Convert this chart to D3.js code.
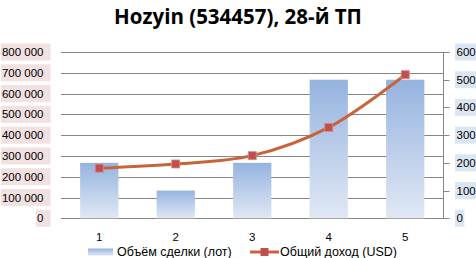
<!DOCTYPE html>
<html>
<head>
<meta charset="utf-8">
<script src="https://cdn.jsdelivr.net/npm/d3@7"></script>
<style>
  body { margin: 0; background: #fff; }
  text { font-family: "Liberation Sans", Arial, sans-serif; }
</style>
</head>
<body>
<svg id="chart" width="476" height="258"></svg>
<script>
// chart data
var categories = ["1", "2", "3", "4", "5"];
var volumes = [266667, 133333, 266667, 666667, 666667];   // Объём сделки (лот)
var incomes = [181, 196, 226, 328, 518];                    // Общий доход (USD)
var leftTicks = [0, 100000, 200000, 300000, 400000, 500000, 600000, 700000, 800000];
var rightTicks = [0, 100, 200, 300, 400, 500, 600];
var seriesNames = ["Объём сделки (лот)", "Общий доход (USD)"];
var title = "Hozyin (534457), 28-й ТП";

var svg = d3.select("#chart");
var plotLeft = 61, plotRight = 443.5, plotTop = 52, plotBottom = 218.3;

var x = d3.scaleBand().domain(categories).range([plotLeft, plotRight]).paddingInner(0.5).paddingOuter(0.25);
var yL = d3.scaleLinear().domain([0, 800000]).range([plotBottom, plotTop]);
var yR = d3.scaleLinear().domain([0, 600]).range([plotBottom, plotTop]);

// gradient for bars
var defs = svg.append("defs");
var grad = defs.append("linearGradient").attr("id", "barGrad")
    .attr("x1", 0).attr("y1", 0).attr("x2", 0).attr("y2", 1);
grad.append("stop").attr("offset", "0%").attr("stop-color", "#95b3e0");
grad.append("stop").attr("offset", "100%").attr("stop-color", "#e1e8f4");

// title
svg.append("text")
    .attr("x", 238).attr("y", 24)
    .attr("text-anchor", "middle")
    .style("font-size", "20.5px").style("font-weight", "bold")
    .style("font-family", "'Open Sans', sans-serif")
    .attr("fill", "#000")
    .text(title);

// gridlines (left axis)
svg.append("g").selectAll("line").data(leftTicks).enter().append("line")
    .attr("x1", plotLeft).attr("x2", plotRight)
    .attr("y1", function (d) { return Math.round(yL(d)) + 0.5; })
    .attr("y2", function (d) { return Math.round(yL(d)) + 0.5; })
    .attr("stroke", "#868686").attr("stroke-width", 1);

// left labels with pink boxes
var leftLab = svg.append("g");
leftTicks.forEach(function (t) {
    var g = leftLab.append("g");
    var txt = g.append("text")
        .attr("x", 43.5).attr("y", yL(t))
        .attr("dy", "0.35em")
        .attr("text-anchor", "end")
        .style("font-size", "11.5px")
        .attr("fill", "#000")
        .text(d3.format(",")(t).replace(/,/g, " "));
    var bb = txt.node().getBBox();
    g.insert("rect", "text")
        .attr("x", bb.x - 1).attr("y", yL(t) - 8.5)
        .attr("width", bb.width + 8).attr("height", 17)
        .attr("fill", "#f2e1e1");
});

// right axis line + ticks
svg.append("line")
    .attr("x1", plotRight).attr("x2", plotRight).attr("y1", plotTop).attr("y2", plotBottom + 0.5)
    .attr("stroke", "#868686");
svg.append("g").selectAll("line").data(rightTicks).enter().append("line")
    .attr("x1", plotRight).attr("x2", plotRight + 6)
    .attr("y1", function (d) { return Math.round(yR(d)) + 0.5; })
    .attr("y2", function (d) { return Math.round(yR(d)) + 0.5; })
    .attr("stroke", "#868686");

// right labels with blue boxes
var rightLab = svg.append("g");
rightTicks.forEach(function (t) {
    var g = rightLab.append("g");
    var txt = g.append("text")
        .attr("x", 456.5).attr("y", yR(t))
        .attr("dy", "0.35em")
        .style("font-size", "11.5px")
        .attr("fill", "#000")
        .text(t);
    var bb = txt.node().getBBox();
    g.insert("rect", "text")
        .attr("x", bb.x - 1.5).attr("y", yR(t) - 8.5)
        .attr("width", bb.width + 3).attr("height", 17)
        .attr("fill", "#dce6f2");
});

// bars
svg.append("g").selectAll("rect").data(volumes).enter().append("rect")
    .attr("x", function (d, i) { return x(categories[i]); })
    .attr("y", function (d) { return yL(d); })
    .attr("width", x.bandwidth())
    .attr("height", function (d) { return plotBottom - yL(d); })
    .attr("fill", "url(#barGrad)");

// x labels
svg.append("g").selectAll("text").data(categories).enter().append("text")
    .attr("x", function (d) { return x(d) + x.bandwidth() / 2; })
    .attr("y", 241)
    .attr("text-anchor", "middle")
    .style("font-size", "11.5px")
    .attr("fill", "#000")
    .text(function (d) { return d; });

// income line (smoothed)
var line = d3.line()
    .x(function (d, i) { return x(categories[i]) + x.bandwidth() / 2; })
    .y(function (d) { return yR(d); })
    .curve(d3.curveCatmullRom.alpha(0.5));
svg.append("path").datum(incomes)
    .attr("d", line)
    .attr("fill", "none")
    .attr("stroke", "#c8643a")
    .attr("stroke-width", 3);

svg.append("g").selectAll("rect").data(incomes).enter().append("rect")
    .attr("x", function (d, i) { return x(categories[i]) + x.bandwidth() / 2 - 4; })
    .attr("y", function (d) { return yR(d) - 4; })
    .attr("width", 8).attr("height", 8)
    .attr("fill", "#c0504d")
    .attr("stroke", "#d98a88").attr("stroke-width", 0.8);

// legend
var legY = 252;
svg.append("rect").attr("x", 88).attr("y", legY - 3.5).attr("width", 25).attr("height", 7)
    .attr("fill", "url(#barGrad)");
svg.append("text").attr("x", 117).attr("y", legY).attr("dy", "0.35em")
    .style("font-size", "12.5px").attr("fill", "#000").text(seriesNames[0]);
svg.append("line").attr("x1", 250).attr("x2", 279).attr("y1", legY).attr("y2", legY)
    .attr("stroke", "#c8643a").attr("stroke-width", 3);
svg.append("rect").attr("x", 260.5).attr("y", legY - 4).attr("width", 8).attr("height", 8)
    .attr("fill", "#c0504d");
svg.append("text").attr("x", 280).attr("y", legY).attr("dy", "0.35em")
    .style("font-size", "12.5px").attr("fill", "#000").text(seriesNames[1]);
</script>
</body>
</html>
